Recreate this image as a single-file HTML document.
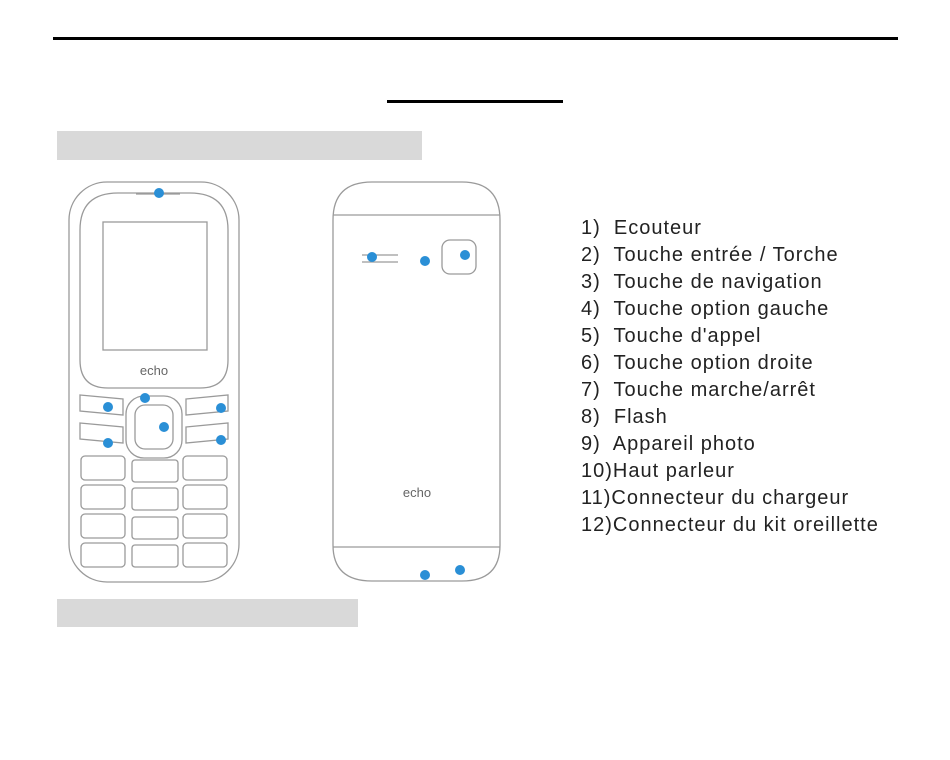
<!DOCTYPE html>
<html><head><meta charset="utf-8"><style>
body{margin:0;background:#fff;width:950px;height:760px;overflow:hidden;position:relative;font-family:"Liberation Sans",sans-serif}
.l{position:absolute;left:581px;font-size:20px;color:#222;white-space:pre;line-height:20px;letter-spacing:1px}
</style></head><body>
<div style="position:absolute;left:53px;top:37px;width:845px;height:3px;background:#000"></div>
<div style="position:absolute;left:387px;top:100px;width:176px;height:3px;background:#000"></div>
<div style="position:absolute;left:57px;top:131px;width:365px;height:29px;background:#d9d9d9"></div>
<div style="position:absolute;left:57px;top:599px;width:301px;height:28px;background:#d9d9d9"></div>
<svg width="950" height="760" style="position:absolute;left:0;top:0" fill="none" stroke="#9a9a9a" stroke-width="1.3">
<rect x="69" y="182" width="170" height="400" rx="38"/>
<path d="M80 230 Q80 193 118 193 L190 193 Q228 193 228 230 L228 360 Q228 388 200 388 L108 388 Q80 388 80 360 Z"/>
<rect x="103" y="222" width="104" height="128"/>
<text x="154" y="375" font-size="13" fill="#666" stroke="none" text-anchor="middle" font-family="Liberation Sans">echo</text>
<path d="M136 194 h44"/>
<rect x="126" y="396" width="56" height="62" rx="18"/>
<rect x="135" y="405" width="38" height="44" rx="10"/>
<path d="M80 395 l43 4 v16 l-43 -4 z"/><path d="M80 423 l43 4 v16 l-43 -4 z"/>
<path d="M186 399 l42 -4 v16 l-42 4 z"/><path d="M186 427 l42 -4 v16 l-42 4 z"/>
<rect x="81" y="456" width="44" height="24" rx="4"/><rect x="132" y="460" width="46" height="22" rx="3"/><rect x="183" y="456" width="44" height="24" rx="4"/>
<rect x="81" y="485" width="44" height="24" rx="4"/><rect x="132" y="488" width="46" height="22" rx="3"/><rect x="183" y="485" width="44" height="24" rx="4"/>
<rect x="81" y="514" width="44" height="24" rx="4"/><rect x="132" y="517" width="46" height="22" rx="3"/><rect x="183" y="514" width="44" height="24" rx="4"/>
<rect x="81" y="543" width="44" height="24" rx="4"/><rect x="132" y="545" width="46" height="22" rx="3"/><rect x="183" y="543" width="44" height="24" rx="4"/>
<path d="M333 220 Q333 182 372 182 L462 182 Q500 182 500 220 L500 545 Q500 581 462 581 L372 581 Q333 581 333 545 Z"/>
<path d="M333 215 h167 M333 547 h167"/>
<rect x="442" y="240" width="34" height="34" rx="8"/>
<path d="M362 255 h36 M362 262 h36"/>
<text x="417" y="497" font-size="13" fill="#666" stroke="none" text-anchor="middle" font-family="Liberation Sans">echo</text>
<g fill="#2a8fd6" stroke="none">
<circle cx="159" cy="193" r="5"/><circle cx="145" cy="398" r="5"/><circle cx="164" cy="427" r="5"/>
<circle cx="108" cy="407" r="5"/><circle cx="108" cy="443" r="5"/><circle cx="221" cy="408" r="5"/><circle cx="221" cy="440" r="5"/>
<circle cx="372" cy="257" r="5"/><circle cx="425" cy="261" r="5"/><circle cx="465" cy="255" r="5"/>
<circle cx="425" cy="575" r="5"/><circle cx="460" cy="570" r="5"/>
</g>
</svg>
<div class="l" style="top:218px">1)  Ecouteur</div>
<div class="l" style="top:245px">2)  Touche entrée / Torche</div>
<div class="l" style="top:272px">3)  Touche de navigation</div>
<div class="l" style="top:299px">4)  Touche option gauche</div>
<div class="l" style="top:326px">5)  Touche d'appel</div>
<div class="l" style="top:353px">6)  Touche option droite</div>
<div class="l" style="top:380px">7)  Touche marche/arrêt</div>
<div class="l" style="top:407px">8)  Flash</div>
<div class="l" style="top:434px">9)  Appareil photo</div>
<div class="l" style="top:461px">10)Haut parleur</div>
<div class="l" style="top:488px">11)Connecteur du chargeur</div>
<div class="l" style="top:515px">12)Connecteur du kit oreillette</div>
</body></html>
